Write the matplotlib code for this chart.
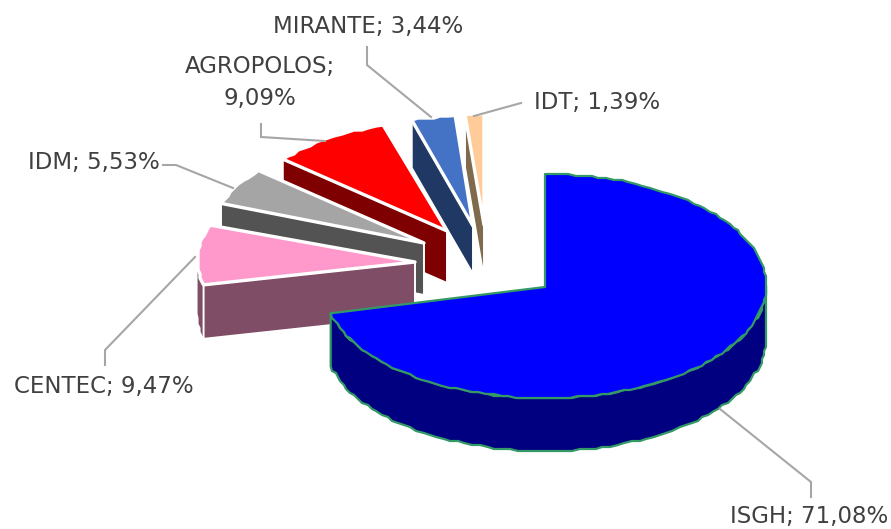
import numpy as np
import matplotlib
matplotlib.use("Agg")
import matplotlib.pyplot as plt
from matplotlib.patches import Polygon

names = ["ISGH", "CENTEC", "IDM", "AGROPOLOS", "MIRANTE", "IDT"]
shares = [71.08, 9.47, 5.53, 9.09, 3.44, 1.39]
top_colors = ["#0000FF", "#FF99CC", "#A5A5A5", "#FF0000", "#4472C4", "#FFCC99"]
side_colors = ["#000080", "#804D66", "#535353", "#7F0000", "#203864", "#806A4D"]

# Layout in pixels: apex of every slice, radii and thickness (perspective makes them differ)
apex_x = [545, 415, 424, 447, 473, 484]
apex_y = [287, 262, 243, 231, 226, 225]
radius_x = [221, 218, 216, 214, 205, 218]
radius_y = [112, 102, 110, 109, 109, 109]
depth = [53, 54, 52, 52, 48, 53]

# Text and leader lines
label_text = ["ISGH; 71,08%", "CENTEC; 9,47%", "IDM; 5,53%", "AGROPOLOS;\n9,09%", "MIRANTE; 3,44%", "IDT; 1,39%"]
label_x = [809, 104, 94, 260, 368, 597]
label_y = [516, 386, 163, 82, 26, 102]
leaders = [
    [(720, 409), (811, 482), (811, 497)],
    [(195, 257), (105, 350), (105, 365)],
    [(163, 165), (176, 165), (233, 188)],
    [(261, 124), (261, 137), (325, 141)],
    [(367, 47), (367, 65), (431, 117)],
    [(521, 103), (474, 116)],
]

GREEN = "#339966"
TEXT = "#404040"


def arc(cx, cy, rx, ry, a0, a1, grid=2.0):
    # angles clockwise from 12 o'clock, snapped to a grid for the rough edge of the original
    n = max(2, int((a1 - a0) / 2.0) + 1)
    t = np.radians(np.linspace(a0, a1, n))
    x = cx + rx * np.sin(t)
    y = cy - ry * np.cos(t)
    x[1:-1] = np.round(x[1:-1] / grid) * grid
    y[1:-1] = np.round(y[1:-1] / grid) * grid
    return np.column_stack([x, y])


def draw_slice(ax, i, a0, a1):
    ax_, ay = apex_x[i], apex_y[i]
    rx, ry, d = radius_x[i], radius_y[i], depth[i]
    main = i == 0
    cy = ay - 1 if main else ay - 2
    edge = GREEN if main else "white"
    lw = 1.6 if main else 2.4
    wall_lw = 1.6 if main else 0.8
    outer = arc(ax_, cy, rx, ry, a0, a1)

    # curved wall, only the part turned to the viewer (90..270 degrees)
    lo, hi = max(a0, 90), min(a1, 270)
    if hi > lo:
        wall = arc(ax_, cy, rx, ry, lo, hi)
        low = wall[::-1] + [0, d]
        ax.add_patch(Polygon(np.vstack([wall, low]), fc=side_colors[i], ec=edge, lw=wall_lw, joinstyle="round"))

    # flat cut wall
    if not main:
        corner = outer[0]
        cut = [(ax_, ay), corner, corner + [0, d], (ax_, ay + d)]
        ax.add_patch(Polygon(cut, fc=side_colors[i], ec=edge, lw=max(wall_lw, 1.4), joinstyle="bevel"))

    top = np.vstack([[(ax_, ay)], outer])
    ax.add_patch(Polygon(top, fc=top_colors[i], ec=edge, lw=lw, joinstyle="round"))


fig = plt.figure(figsize=(8.91, 5.29), dpi=100)
ax = fig.add_axes([0, 0, 1, 1])
ax.set_xlim(0, 891)
ax.set_ylim(529, 0)
ax.axis("off")

ends = np.cumsum(shares) / np.sum(shares) * 360
starts = np.concatenate([[0], ends[:-1]])

# far slices first so the nearer ones cover them
for i in [5, 4, 3, 2, 1, 0]:
    draw_slice(ax, i, starts[i], ends[i])

for pts in leaders:
    xs, ys = zip(*pts)
    ax.plot(xs, ys, color="#A6A6A6", lw=1.5, solid_joinstyle="miter")

for txt, x, y in zip(label_text, label_x, label_y):
    ax.text(x, y, txt, ha="center", va="center", color=TEXT, fontsize=16.5,
            family="DejaVu Sans", linespacing=1.5)

fig.savefig("out.png", dpi=100)
